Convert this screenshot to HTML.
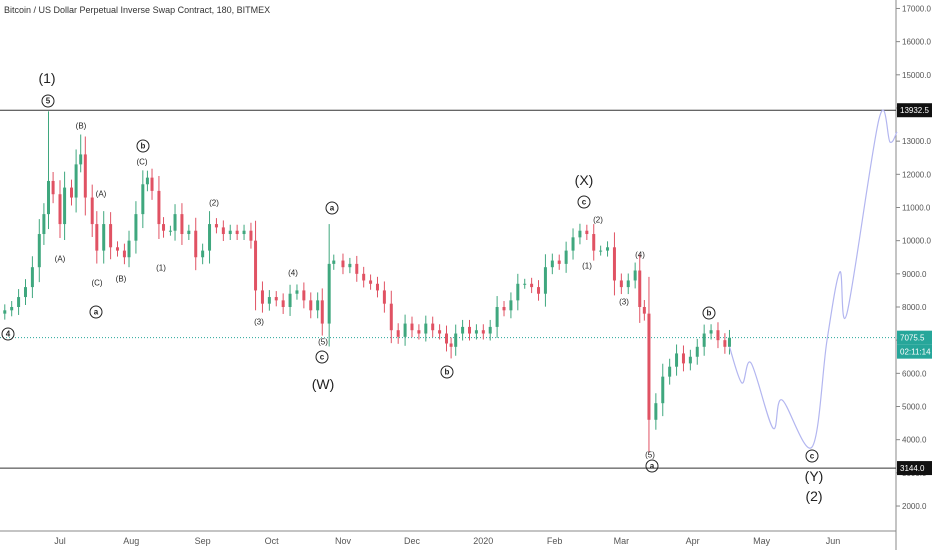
<!DOCTYPE html>
<html><head><meta charset="utf-8"><style>
body{margin:0;background:#fff;}
#wrap{position:relative;width:932px;height:550px;overflow:hidden;font-family:"Liberation Sans",sans-serif;}
.lbl{position:absolute;transform:translate(-50%,-50%);font-size:8px;color:#222;white-space:nowrap;}
.big{font-size:14px;}
.circ{width:11px;height:11px;border:1px solid #222;border-radius:50%;font-size:8px;text-align:center;line-height:11px;font-weight:bold;}
</style></head><body>
<div id="wrap">
<div style="position:absolute;left:4px;top:5px;font-size:9px;color:#333">Bitcoin / US Dollar Perpetual Inverse Swap Contract, 180, BITMEX</div>
<svg id="svg" width="932" height="550" style="position:absolute;left:0;top:0"></svg>
</div>
<script>
const dates=["2019-06-01","2019-06-04","2019-06-07","2019-06-10","2019-06-13","2019-06-16","2019-06-19","2019-06-22","2019-06-24","2019-06-26","2019-06-28","2019-07-01","2019-07-03","2019-07-06","2019-07-08","2019-07-10","2019-07-12","2019-07-15","2019-07-17","2019-07-20","2019-07-23","2019-07-26","2019-07-29","2019-07-31","2019-08-03","2019-08-06","2019-08-08","2019-08-10","2019-08-13","2019-08-15","2019-08-18","2019-08-20","2019-08-23","2019-08-26","2019-08-29","2019-09-01","2019-09-04","2019-09-07","2019-09-10","2019-09-13","2019-09-16","2019-09-19","2019-09-22","2019-09-24","2019-09-27","2019-09-30","2019-10-03","2019-10-06","2019-10-09","2019-10-12","2019-10-15","2019-10-18","2019-10-21","2019-10-23","2019-10-26","2019-10-28","2019-11-01","2019-11-04","2019-11-07","2019-11-10","2019-11-13","2019-11-16","2019-11-19","2019-11-22","2019-11-25","2019-11-28","2019-12-01","2019-12-04","2019-12-07","2019-12-10","2019-12-13","2019-12-16","2019-12-18","2019-12-20","2019-12-23","2019-12-26","2019-12-29","2020-01-01","2020-01-04","2020-01-07","2020-01-10","2020-01-13","2020-01-16","2020-01-19","2020-01-22","2020-01-25","2020-01-28","2020-01-31","2020-02-03","2020-02-06","2020-02-09","2020-02-12","2020-02-15","2020-02-18","2020-02-21","2020-02-24","2020-02-27","2020-03-01","2020-03-04","2020-03-07","2020-03-09","2020-03-11","2020-03-13","2020-03-16","2020-03-19","2020-03-22","2020-03-25","2020-03-28","2020-03-31","2020-04-03","2020-04-06","2020-04-09","2020-04-12","2020-04-15","2020-04-17"];
const closes=[7900,7800,7900,8000,8300,8600,9200,10200,10800,11800,11400,10500,11600,11300,12300,12600,11300,10500,9700,10500,9800,9700,9500,10000,10800,11700,11900,11500,10500,10300,10300,10800,10200,10300,9500,9700,10500,10400,10200,10300,10200,10300,10000,8500,8100,8300,8200,8000,8400,8500,8200,7900,8200,7500,9300,9400,9200,9300,9000,8800,8700,8500,8100,7300,7100,7500,7300,7200,7500,7300,7200,6900,6800,7200,7400,7200,7300,7200,7400,8000,7900,8200,8700,8700,8600,8400,9200,9400,9300,9700,10100,10300,10200,9700,9700,9800,8800,8600,8800,9100,8000,7800,4600,5100,5900,6200,6600,6300,6500,6800,7200,7300,7000,6800,7075];
const extremeDates=["2019-06-26","2019-07-10","2019-10-26","2019-12-18","2020-03-13"];
const extremeHighs=[13900,13200,10500,null,null];
const extremeLows=[null,null,null,6450,3600];
const projDays=[291,296.4,300.4,309.9,313.8,326.9,333.4,339,342.1,356,360.8,363.8];
const projPrices=[6800,5710,6310,4350,5200,3780,7000,9060,7820,13670,12970,13280];
const priceTicks=[17000,16000,15000,14000,13000,12000,11000,10000,9000,8000,7000,6000,5000,4000,3000,2000];
const monthLabels=["Jul","Aug","Sep","Oct","Nov","Dec","2020","Feb","Mar","Apr","May","Jun"];
const monthDates=["2019-07-01","2019-08-01","2019-09-01","2019-10-01","2019-11-01","2019-12-01","2020-01-01","2020-02-01","2020-03-01","2020-04-01","2020-05-01","2020-06-01"];
const lastPrice=7075.5, topLevel=13932.5, bottomLevel=3144.0;

const NS="http://www.w3.org/2000/svg",svg=document.getElementById('svg');
const D0=Date.UTC(2019,6,1);
function dayOf(s){const p=s.split('-');return (Date.UTC(+p[0],+p[1]-1,+p[2])-D0)/864e5;}
function xs(d){return 60+d*2.3006;}
function ys(p){return 307-(p-8000)*0.03317;}
function el(t,a){const e=document.createElementNS(NS,t);for(const k in a)e.setAttribute(k,a[k]);svg.appendChild(e);return e;}

let ax=el('line',{x1:896,y1:0,x2:896,y2:550,stroke:'#888','stroke-width':1});


let bx=el('line',{x1:0,y1:531,x2:896,y2:531,stroke:'#888','stroke-width':1});


priceTicks.forEach(p=>{
  el('line',{x1:896,y1:ys(p),x2:900,y2:ys(p),stroke:'#888'});
  const t=el('text',{x:902,y:ys(p)+3,'font-size':8,fill:'#555','font-family':'Liberation Sans'});
  t.textContent=p.toFixed(1);
  
  
});
monthLabels.forEach((m,i)=>{
  const x=xs(dayOf(monthDates[i]));
  const t=el('text',{x:x,y:544,'font-size':9,fill:'#555','text-anchor':'middle','font-family':'Liberation Sans'});
  t.textContent=m;
  
  
});
let l1=el('line',{x1:0,y1:ys(topLevel),x2:896,y2:ys(topLevel),stroke:'#333','stroke-width':1});


let l2=el('line',{x1:0,y1:ys(bottomLevel),x2:896,y2:ys(bottomLevel),stroke:'#333','stroke-width':1});


let l3=el('line',{x1:0,y1:ys(lastPrice),x2:896,y2:ys(lastPrice),stroke:'#26a69a','stroke-width':1,'stroke-dasharray':'1,2'});


for(let i=1;i<closes.length;i++){
  const d=dayOf(dates[i]),o=closes[i-1],c=closes[i];
  const x=xs(d);
  let hi=Math.max(o,c)+Math.abs(c-o)*0.3+150,lo=Math.min(o,c)-Math.abs(c-o)*0.3-150;
  const k=extremeDates.indexOf(dates[i]);
  if(k>=0){if(extremeHighs[k]!==null)hi=extremeHighs[k];if(extremeLows[k]!==null)lo=extremeLows[k];}
  const col=c>=o?'#3fa77e':'#e05263';
  const w=el('line',{x1:x,y1:ys(hi),x2:x,y2:ys(lo),stroke:col,'stroke-width':1});
  
  
  const top=ys(Math.max(o,c)),h=Math.max(1,ys(Math.min(o,c))-top);
  const b=el('rect',{x:x-1.5,y:top,width:3,height:h,fill:col});
  
  
}
const pts=projDays.map((d,i)=>[xs(d),ys(projPrices[i])]);
let dstr='M'+pts[0][0]+','+pts[0][1];
for(let i=0;i<pts.length-1;i++){
  const p0=pts[i-1]||pts[i],p1=pts[i],p2=pts[i+1],p3=pts[i+2]||p2;
  const c1=[p1[0]+(p2[0]-p0[0])/6,p1[1]+(p2[1]-p0[1])/6],c2=[p2[0]-(p3[0]-p1[0])/6,p2[1]-(p3[1]-p1[1])/6];
  dstr+=`C${c1[0]},${c1[1]} ${c2[0]},${c2[1]} ${p2[0]},${p2[1]}`;
}
const pp=el('path',{d:dstr,fill:'none',stroke:'#b3b6f0','stroke-width':1.2});


function tag(y,txt,bg,name){
  const r=el('rect',{x:897,y:y-7,width:35,height:14,fill:bg});
  
  
  const t=el('text',{x:900,y:y+3,'font-size':8,fill:'#fff','font-family':'Liberation Sans'});
  t.textContent=txt;
}
tag(ys(topLevel),topLevel.toFixed(1),'#111','resistance-price-tag');
tag(ys(bottomLevel),bottomLevel.toFixed(1),'#111','support-price-tag');
tag(ys(lastPrice),lastPrice.toFixed(1),'#26a69a','last-price-tag');
tag(ys(lastPrice)+14,'02:11:14','#26a69a','countdown-tag');

const labels=[[47,78,'(1)','big'],[48,101,'5','circ'],[81,126,'(B)',''],[101,194,'(A)',''],[97,283,'(C)',''],[60,259,'(A)',''],[121,279,'(B)',''],[96,312,'a','circ'],[143,146,'b','circ'],[142,162,'(C)',''],[161,268,'(1)',''],[214,203,'(2)',''],[259,322,'(3)',''],[293,273,'(4)',''],[323,342,'(5)',''],[322,357,'c','circ'],[323,384,'(W)','big'],[332,208,'a','circ'],[447,372,'b','circ'],[584,180,'(X)','big'],[584,202,'c','circ'],[598,220,'(2)',''],[587,266,'(1)',''],[624,302,'(3)',''],[640,255,'(4)',''],[650,455,'(5)',''],[652,466,'a','circ'],[709,313,'b','circ'],[812,456,'c','circ'],[814,476,'(Y)','big'],[814,496,'(2)','big'],[8,334,'4','circ']];
const wrap=document.getElementById('wrap');
labels.forEach(l=>{
  const d=document.createElement('div');
  d.className='lbl '+l[3];
  d.style.left=l[0]+'px';d.style.top=l[1]+'px';
  d.textContent=l[2];
  
  
  wrap.appendChild(d);
});
</script>
</body></html>
